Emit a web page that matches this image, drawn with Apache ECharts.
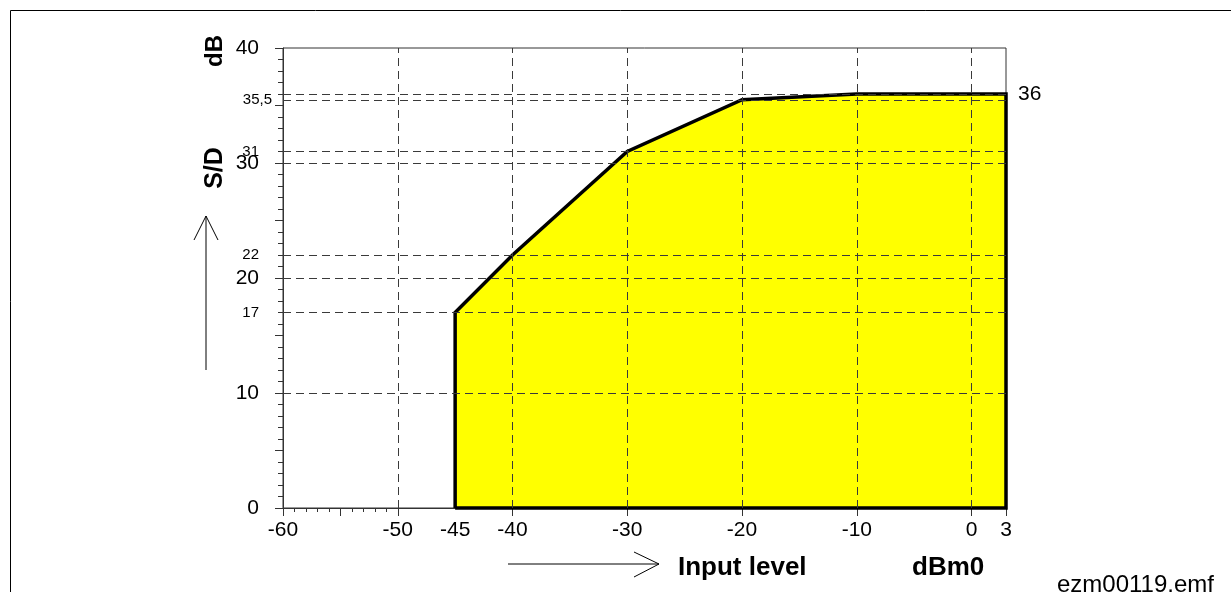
<!DOCTYPE html>
<html>
<head>
<meta charset="utf-8">
<script src="https://cdn.jsdelivr.net/npm/echarts@6/dist/echarts.min.js"></script>
<style>
  html, body { margin: 0; padding: 0; background: #fff; }
  #chart { width: 1231px; height: 603px; }
</style>
</head>
<body>
<div id="chart"></div>
<script>
// ---- data ----
const X_LABELS = [-60, -50, -45, -40, -30, -20, -10, 0, 3];
const X_MAJOR_TICKS = [-60, -55, -50, -40, -30, -20, -10, 0, 3];
const X_MINOR_TICKS = [-59, -58, -57, -56, -54, -53, -52, -51];
const Y_LABELS_BIG = [0, 10, 20, 30, 40];
const Y_LABELS_SMALL = [17, 22, 31];
const Y_LABEL_HALF = [35.5];
const Y_LABEL_RIGHT = [36];
const Y_MAJOR_STEP = 5;
const Y_MINOR_SPLIT = 5;
const Y_EXTRA_TICKS = [35.5];
const GRID_X = [-50, -40, -30, -20, -10, 0];
const GRID_Y = [10, 17, 20, 22, 30, 31, 35.5, 36];
const POLY_X = [-45, -45, -40, -30, -20, -10, 3, 3];
const POLY_Y = [0, 17, 22, 31, 35.5, 36, 36, 0];

const FONT = "'Liberation Sans', Arial, sans-serif";
const AXIS_COLOR = '#333';
const X_MIN = -60, X_MAX = 3, Y_MIN = 0, Y_MAX = 40;

const polyData = POLY_X.map((x, i) => [x, POLY_Y[i]]);
const outlineData = polyData.concat([[POLY_X[0], POLY_Y[0]]]);

const chart = echarts.init(document.getElementById('chart'), null, { renderer: 'canvas' });

function xAxisBase(extra) {
  return Object.assign({
    type: 'value', min: X_MIN, max: X_MAX, position: 'bottom',
    splitLine: { show: false },
    axisLine: { show: false },
    axisTick: { show: false },
    axisLabel: { show: false }
  }, extra);
}
function yAxisBase(extra) {
  return Object.assign({
    type: 'value', min: Y_MIN, max: Y_MAX, position: 'left',
    splitLine: { show: false },
    axisLine: { show: false },
    axisTick: { show: false },
    axisLabel: { show: false }
  }, extra);
}

const option = {
  animation: false,
  backgroundColor: '#fff',
  grid: {
    left: 283, right: 225, top: 48, bottom: 95,
    show: true, borderColor: AXIS_COLOR, borderWidth: 1,
    backgroundColor: 'transparent',
    containLabel: false, outerBoundsMode: 'none'
  },
  xAxis: [
    xAxisBase({
      axisLine: { show: true, onZero: false, lineStyle: { color: AXIS_COLOR, width: 1 } },
      axisTick: { show: true, inside: false, length: 8, customValues: X_MAJOR_TICKS,
                  lineStyle: { color: AXIS_COLOR } },
      axisLabel: { show: true, customValues: X_LABELS, margin: 12, fontSize: 21,
                   color: '#000', fontFamily: FONT }
    }),
    xAxisBase({
      axisTick: { show: true, inside: false, length: 4, customValues: X_MINOR_TICKS,
                  lineStyle: { color: AXIS_COLOR } }
    })
  ],
  yAxis: [
    yAxisBase({
      interval: Y_MAJOR_STEP,
      axisLine: { show: true, onZero: false, lineStyle: { color: AXIS_COLOR, width: 1 } },
      axisTick: { show: true, inside: false, length: 8, lineStyle: { color: AXIS_COLOR } },
      minorTick: { show: true, splitNumber: Y_MINOR_SPLIT, length: 5, lineStyle: { color: AXIS_COLOR, width: 1 } },
      minorSplitLine: { show: false },
      axisLabel: { show: true, customValues: Y_LABELS_BIG, margin: 24, fontSize: 21,
                   color: '#000', fontFamily: FONT }
    }),
    yAxisBase({
      axisTick: { show: true, inside: false, length: 5, customValues: Y_EXTRA_TICKS,
                  lineStyle: { color: AXIS_COLOR } }
    }),
    yAxisBase({
      axisLabel: { show: true, customValues: Y_LABELS_SMALL, margin: 24, fontSize: 15,
                   color: '#000', fontFamily: FONT }
    }),
    yAxisBase({
      axisLabel: { show: true, customValues: Y_LABEL_HALF, margin: 11, fontSize: 15,
                   color: '#000', fontFamily: FONT, padding: [7, 0, 0, 0],
                   formatter: v => String(v).replace('.', ',') }
    }),
    yAxisBase({
      position: 'right',
      axisLabel: { show: true, customValues: Y_LABEL_RIGHT, margin: 12, fontSize: 21,
                   color: '#000', fontFamily: FONT }
    })
  ],
  series: [
    {
      name: 'fill', type: 'line', xAxisIndex: 0, yAxisIndex: 0,
      data: polyData, symbol: 'none', smooth: false, clip: false, z: 1,
      lineStyle: { width: 0 },
      areaStyle: { color: '#ffff00', opacity: 1 },
      silent: true
    },
    {
      name: 'grid', type: 'line', xAxisIndex: 0, yAxisIndex: 0,
      data: [], symbol: 'none', z: 2, silent: true,
      markLine: {
        silent: true, symbol: 'none', animation: false,
        label: { show: false },
        lineStyle: { color: '#3a3a3a', width: 1, type: [8, 5] },
        data: GRID_X.map(v => ({ xAxis: v })).concat(GRID_Y.map(v => ({ yAxis: v })))
      }
    },
    {
      name: 'outline', type: 'line', xAxisIndex: 0, yAxisIndex: 0,
      data: outlineData, symbol: 'none', smooth: false, clip: false, z: 3,
      lineStyle: { color: '#000', width: 3.5, join: 'miter' },
      silent: true
    }
  ],
  graphic: [
    // outer frame
    { type: 'line', shape: { x1: 10.5, y1: 10.5, x2: 1231, y2: 10.5 }, style: { stroke: '#000', lineWidth: 1 } },
    { type: 'line', shape: { x1: 10.5, y1: 10.5, x2: 10.5, y2: 592 }, style: { stroke: '#000', lineWidth: 1 } },
    // y axis titles
    { type: 'text', x: 215, y: 51, rotation: Math.PI / 2,
      style: { text: 'dB', font: "bold 24px 'Liberation Sans', Arial, sans-serif", fill: '#000',
               textAlign: 'center', textVerticalAlign: 'middle' } },
    { type: 'text', x: 215, y: 168, rotation: Math.PI / 2,
      style: { text: 'S/D', font: "bold 25px 'Liberation Sans', Arial, sans-serif", fill: '#000',
               textAlign: 'center', textVerticalAlign: 'middle' } },
    // vertical arrow
    { type: 'polyline', shape: { points: [[206, 370], [206, 216]] }, style: { stroke: '#000', lineWidth: 1, fill: null } },
    { type: 'polyline', shape: { points: [[194, 240], [206, 216], [218, 240]] }, style: { stroke: '#000', lineWidth: 1, fill: null } },
    // horizontal arrow
    { type: 'polyline', shape: { points: [[508, 564], [659, 564]] }, style: { stroke: '#000', lineWidth: 1, fill: null } },
    { type: 'polyline', shape: { points: [[634, 552], [659, 564], [634, 577]] }, style: { stroke: '#000', lineWidth: 1, fill: null } },
    // x axis titles
    { type: 'text', x: 678, y: 568,
      style: { text: 'Input level', font: "bold 26px 'Liberation Sans', Arial, sans-serif", fill: '#000',
               textAlign: 'left', textVerticalAlign: 'middle' } },
    { type: 'text', x: 912, y: 568,
      style: { text: 'dBm0', font: "bold 26px 'Liberation Sans', Arial, sans-serif", fill: '#000',
               textAlign: 'left', textVerticalAlign: 'middle' } },
    { type: 'text', x: 1057, y: 585,
      style: { text: 'ezm00119.emf', font: "24px 'Liberation Sans', Arial, sans-serif", fill: '#000',
               textAlign: 'left', textVerticalAlign: 'middle' } }
  ]
};

chart.setOption(option);
</script>
</body>
</html>
